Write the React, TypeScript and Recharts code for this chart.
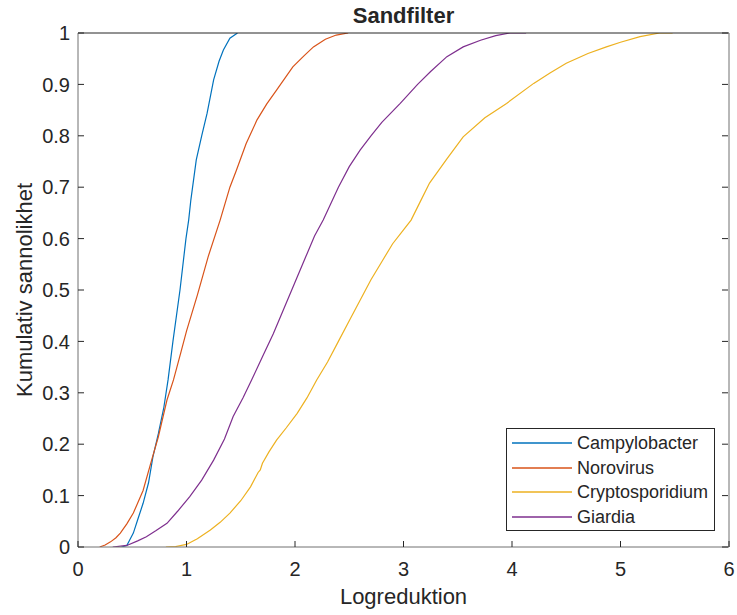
import { Legend, Line, LineChart, XAxis, YAxis } from "recharts"

// Empirical CDFs of log reduction for a sand filter, one per pathogen
const campyX = [0.4, 0.45, 0.51, 0.55, 0.6, 0.65, 0.69, 0.74, 0.79, 0.83, 0.875, 0.94, 0.995, 1.02, 1.04, 1.09, 1.14, 1.19, 1.25, 1.3, 1.34, 1.4, 1.47]
const campyY = [0, 0.003, 0.027, 0.053, 0.085, 0.125, 0.175, 0.22, 0.27, 0.325, 0.4, 0.5, 0.6, 0.636, 0.675, 0.753, 0.8, 0.844, 0.909, 0.945, 0.967, 0.99, 1]

const noroX = [0.2, 0.25, 0.3, 0.35, 0.39, 0.45, 0.51, 0.6, 0.68, 0.74, 0.82, 0.88, 0.95, 1.0, 1.1, 1.2, 1.31, 1.4, 1.46, 1.55, 1.65, 1.74, 1.83, 1.98, 2.08, 2.17, 2.28, 2.38, 2.49]
const noroY = [0, 0.004, 0.01, 0.018, 0.027, 0.045, 0.066, 0.11, 0.17, 0.214, 0.286, 0.325, 0.38, 0.42, 0.49, 0.565, 0.636, 0.7, 0.733, 0.785, 0.831, 0.862, 0.889, 0.934, 0.955, 0.973, 0.988, 0.996, 1]

const cryptoX = [0.81, 0.9, 1.0, 1.1, 1.22, 1.31, 1.4, 1.5, 1.59, 1.66, 1.68, 1.7, 1.76, 1.83, 1.92, 2.02, 2.11, 2.2, 2.3, 2.4, 2.5, 2.6, 2.7, 2.8, 2.9, 3.0, 3.07, 3.15, 3.24, 3.4, 3.55, 3.75, 3.95, 4.2, 4.35, 4.5, 4.7, 4.87, 5.0, 5.18, 5.36, 5.48]
const cryptoY = [0, 0.001, 0.005, 0.016, 0.033, 0.048, 0.066, 0.09, 0.117, 0.145, 0.15, 0.163, 0.185, 0.208, 0.232, 0.26, 0.29, 0.325, 0.36, 0.4, 0.44, 0.48, 0.52, 0.555, 0.59, 0.617, 0.636, 0.67, 0.708, 0.755, 0.798, 0.835, 0.863, 0.902, 0.922, 0.941, 0.96, 0.973, 0.982, 0.993, 1, 1]

const giardiaX = [0.32, 0.45, 0.55, 0.63, 0.72, 0.82, 0.92, 1.03, 1.14, 1.25, 1.35, 1.43, 1.52, 1.6, 1.7, 1.8, 1.9, 2.0, 2.1, 2.18, 2.26, 2.4, 2.5, 2.6, 2.7, 2.8, 2.97, 3.13, 3.25, 3.4, 3.55, 3.71, 3.85, 3.98, 4.13]
const giardiaY = [0, 0.003, 0.012, 0.02, 0.032, 0.046, 0.07, 0.098, 0.13, 0.169, 0.21, 0.254, 0.29, 0.325, 0.37, 0.415, 0.465, 0.515, 0.565, 0.605, 0.636, 0.7, 0.74, 0.772, 0.8, 0.826, 0.863, 0.9, 0.925, 0.954, 0.973, 0.986, 0.995, 1, 1]

const xTicks = [0, 1, 2, 3, 4, 5, 6]
const yTicks = [0, 0.1, 0.2, 0.3, 0.4, 0.5, 0.6, 0.7, 0.8, 0.9, 1]

const toPoints = (xs: number[], ys: number[]) => xs.map((x, i) => ({ x, p: ys[i] }))

const series = [
  { name: "Campylobacter", color: "#0072BD", data: toPoints(campyX, campyY) },
  { name: "Norovirus", color: "#D95319", data: toPoints(noroX, noroY) },
  { name: "Cryptosporidium", color: "#EDB120", data: toPoints(cryptoX, cryptoY) },
  { name: "Giardia", color: "#7E2F8E", data: toPoints(giardiaX, giardiaY) },
]

const FONT = '"Liberation Sans", Arial, Helvetica, sans-serif'
const INK = "#262626"
const FRAME = "#707070"
const TICK_LEN = 6
const X_GAP = 15
const Y_GAP = 8

// ticks point into the plot box, like MATLAB's default axes
const BottomTick = ({ x, y, payload }: any) => (
  <g>
    <line x1={x} x2={x} y1={y - X_GAP} y2={y - X_GAP - TICK_LEN} stroke={INK} />
    <text x={x} y={y} dy="0.71em" textAnchor="middle" fill={INK} fontSize={20} fontFamily={FONT}>
      {payload.value}
    </text>
  </g>
)

const LeftTick = ({ x, y, payload }: any) => (
  <g>
    <line x1={x + Y_GAP} x2={x + Y_GAP + TICK_LEN} y1={y} y2={y} stroke={INK} />
    <text x={x} y={y} dy="0.355em" textAnchor="end" fill={INK} fontSize={20} fontFamily={FONT}>
      {payload.value}
    </text>
  </g>
)

const TopTick = ({ x, y }: any) => <line x1={x} x2={x} y1={y + 1} y2={y + 1 + TICK_LEN} stroke={INK} />

const RightTick = ({ x, y }: any) => <line x1={x - 1} x2={x - 1 - TICK_LEN} y1={y} y2={y} stroke={INK} />

// boxed legend in the lower right, in series order
const renderLegend = () => (
  <svg width={209} height={103} style={{ display: "block" }}>
    <rect x={0.5} y={0.5} width={208} height={102} fill="#fff" stroke={INK} />
    {series.map((s, i) => {
      const cy = Math.round(15 + i * 24.5)
      return (
        <g key={s.name}>
          <line x1={6} x2={66} y1={cy} y2={cy} stroke={s.color} strokeWidth={1.5} />
          <text x={71} y={cy} dy="0.35em" fill={INK} fontSize={18} fontFamily={FONT}>
            {s.name}
          </text>
        </g>
      )
    })}
  </svg>
)

export default function App() {
  return (
    <div style={{ position: "absolute", left: 0, top: 0 }}>
      <LineChart width={737} height={615} margin={{ top: 32, right: 7, bottom: 0, left: 8 }}>
        <XAxis
          dataKey="x"
          type="number"
          domain={[0, 6]}
          ticks={xTicks}
          interval={0}
          allowDataOverflow
          height={68}
          tickSize={0}
          tickMargin={X_GAP}
          tickLine={false}
          tick={<BottomTick />}
          axisLine={{ stroke: FRAME }}
          label={{
            value: "Logreduktion",
            content: ({ viewBox }: any) => (
              <text
                x={viewBox.x + viewBox.width / 2}
                y={viewBox.y + viewBox.height - 11}
                textAnchor="middle"
                fill={INK}
                fontSize={22}
                fontFamily={FONT}
              >
                Logreduktion
              </text>
            ),
          }}
        />
        <XAxis
          xAxisId="top"
          orientation="top"
          type="number"
          domain={[0, 6]}
          ticks={xTicks}
          interval={0}
          allowDataOverflow
          height={1}
          tickSize={0}
          tickMargin={0}
          tickLine={false}
          tick={<TopTick />}
          axisLine={{ stroke: INK }}
          label={{
            value: "Sandfilter",
            content: ({ viewBox }: any) => (
              <text
                x={viewBox.x + viewBox.width / 2}
                y={viewBox.y + viewBox.height - 10}
                textAnchor="middle"
                fill={INK}
                fontSize={22}
                fontWeight="bold"
                fontFamily={FONT}
              >
                Sandfilter
              </text>
            ),
          }}
        />
        <YAxis
          type="number"
          domain={[0, 1]}
          ticks={yTicks}
          interval={0}
          allowDataOverflow
          width={70}
          tickSize={0}
          tickMargin={Y_GAP}
          tickLine={false}
          tick={<LeftTick />}
          axisLine={{ stroke: FRAME }}
          label={{
            value: "Kumulativ sannolikhet",
            content: ({ viewBox }: any) => {
              const cy = viewBox.y + viewBox.height / 2
              return (
                <text
                  x={32}
                  y={cy}
                  transform={`rotate(-90, 32, ${cy})`}
                  textAnchor="middle"
                  fill={INK}
                  fontSize={22}
                  fontFamily={FONT}
                >
                  Kumulativ sannolikhet
                </text>
              )
            },
          }}
        />
        <YAxis
          yAxisId="right"
          orientation="right"
          type="number"
          domain={[0, 1]}
          ticks={yTicks}
          interval={0}
          allowDataOverflow
          width={1}
          tickSize={0}
          tickMargin={0}
          tickLine={false}
          tick={<RightTick />}
          axisLine={{ stroke: FRAME }}
        />
        {series.map(s => (
          <Line
            key={s.name}
            data={s.data}
            dataKey="p"
            name={s.name}
            type="linear"
            stroke={s.color}
            strokeWidth={1.2}
            dot={false}
            activeDot={false}
            isAnimationActive={false}
          />
        ))}
        <Legend
          layout="vertical"
          align="center"
          verticalAlign="middle"
          content={renderLegend}
          wrapperStyle={{ left: 506, top: 428, width: 209, height: 103 }}
        />
      </LineChart>
    </div>
  )
}
